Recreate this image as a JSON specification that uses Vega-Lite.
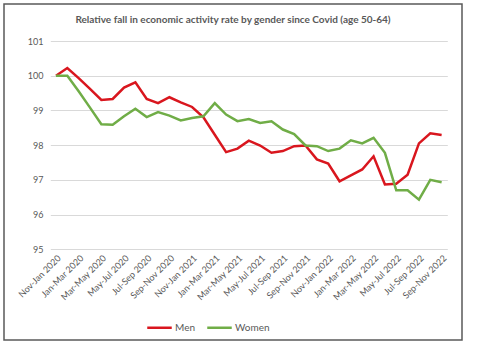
{
  "$schema": "https://vega.github.io/schema/vega-lite/v6.json",
  "autosize": {"type": "none"},
  "padding": {"left": 4, "top": 4, "right": 38, "bottom": 11},
  "width": 458,
  "height": 336,
  "background": "white",
  "config": {"view": {"stroke": "#595959", "strokeWidth": 1.5}, "font": "Lato"},
  "title": {"text": "Relative fall in economic activity rate by gender since Covid (age 50-64)", "font": "Lato", "fontSize": 10, "fontWeight": "bold", "color": "#595959", "anchor": "middle", "offset": -21},
  "data": {"values": [
    {"period": "Nov-Jan 2020", "Men": 100.0, "Women": 100.0},
    {"period": "Dec-Feb 2020", "Men": 100.22, "Women": 100.0},
    {"period": "Jan-Mar 2020", "Men": 99.93, "Women": 99.55},
    {"period": "Feb-Apr 2020", "Men": 99.62, "Women": 99.08},
    {"period": "Mar-May 2020", "Men": 99.3, "Women": 98.6},
    {"period": "Apr-Jun 2020", "Men": 99.33, "Women": 98.59},
    {"period": "May-Jul 2020", "Men": 99.66, "Women": 98.83},
    {"period": "Jun-Aug 2020", "Men": 99.81, "Women": 99.05},
    {"period": "Jul-Sep 2020", "Men": 99.33, "Women": 98.81},
    {"period": "Aug-Oct 2020", "Men": 99.21, "Women": 98.95},
    {"period": "Sep-Nov 2020", "Men": 99.38, "Women": 98.85},
    {"period": "Oct-Dec 2020", "Men": 99.23, "Women": 98.71},
    {"period": "Nov-Jan 2021", "Men": 99.1, "Women": 98.78},
    {"period": "Dec-Feb 2021", "Men": 98.8, "Women": 98.83},
    {"period": "Jan-Mar 2021", "Men": 98.3, "Women": 99.21},
    {"period": "Feb-Apr 2021", "Men": 97.8, "Women": 98.88},
    {"period": "Mar-May 2021", "Men": 97.9, "Women": 98.69},
    {"period": "Apr-Jun 2021", "Men": 98.13, "Women": 98.75},
    {"period": "May-Jul 2021", "Men": 97.99, "Women": 98.64},
    {"period": "Jun-Aug 2021", "Men": 97.78, "Women": 98.69},
    {"period": "Jul-Sep 2021", "Men": 97.83, "Women": 98.45},
    {"period": "Aug-Oct 2021", "Men": 97.97, "Women": 98.32},
    {"period": "Sep-Nov 2021", "Men": 97.99, "Women": 97.99},
    {"period": "Oct-Dec 2021", "Men": 97.59, "Women": 97.97},
    {"period": "Nov-Jan 2022", "Men": 97.47, "Women": 97.83},
    {"period": "Dec-Feb 2022", "Men": 96.96, "Women": 97.9},
    {"period": "Jan-Mar 2022", "Men": 97.13, "Women": 98.14},
    {"period": "Feb-Apr 2022", "Men": 97.3, "Women": 98.05},
    {"period": "Mar-May 2022", "Men": 97.68, "Women": 98.21},
    {"period": "Apr-Jun 2022", "Men": 96.87, "Women": 97.78},
    {"period": "May-Jul 2022", "Men": 96.89, "Women": 96.7},
    {"period": "Jun-Aug 2022", "Men": 97.15, "Women": 96.7},
    {"period": "Jul-Sep 2022", "Men": 98.05, "Women": 96.43},
    {"period": "Aug-Oct 2022", "Men": 98.34, "Women": 97.0},
    {"period": "Sep-Nov 2022", "Men": 98.29, "Women": 96.93}
  ]},
  "transform": [{"fold": ["Men", "Women"], "as": ["gender", "value"]}],
  "mark": {"type": "line", "strokeWidth": 2.5},
  "encoding": {
    "x": {
      "field": "period", "type": "ordinal", "sort": null,
      "scale": {"type": "point", "padding": 0.5, "range": [46.3, 443.3]},
      "axis": {
        "title": null,
        "values": ["Nov-Jan 2020", "Jan-Mar 2020", "Mar-May 2020", "May-Jul 2020", "Jul-Sep 2020", "Sep-Nov 2020", "Nov-Jan 2021", "Jan-Mar 2021", "Mar-May 2021", "May-Jul 2021", "Jul-Sep 2021", "Sep-Nov 2021", "Nov-Jan 2022", "Jan-Mar 2022", "Mar-May 2022", "May-Jul 2022", "Jul-Sep 2022", "Sep-Nov 2022"],
        "labelAngle": -45, "ticks": false, "domain": false, "grid": false,
        "offset": -90.7, "labelFont": "Lato", "labelFontSize": 9, "labelColor": "#595959", "labelPadding": 4
      }
    },
    "y": {
      "field": "value", "type": "quantitative",
      "scale": {"domain": [95, 101], "range": [245.3, 37], "nice": false, "zero": false},
      "axis": {
        "title": null, "values": [95, 96, 97, 98, 99, 100, 101],
        "ticks": false, "domain": false, "offset": -41, "labelPadding": 2,
        "gridColor": "#d9d9d9", "gridWidth": 1,
        "labelFont": "Lato", "labelFontSize": 9, "labelColor": "#595959"
      }
    },
    "color": {
      "field": "gender", "type": "nominal",
      "scale": {"domain": ["Men", "Women"], "range": ["#d9161e", "#70ad47"]},
      "legend": {
        "title": null, "orient": "none", "legendX": 142, "legendY": 310,
        "direction": "horizontal", "symbolType": "stroke", "symbolSize": 600,
        "symbolStrokeWidth": 2.5, "labelOffset": 2, "columnPadding": 7,
        "labelFont": "Lato", "labelFontSize": 10, "labelColor": "#595959", "padding": 0
      }
    }
  }
}
